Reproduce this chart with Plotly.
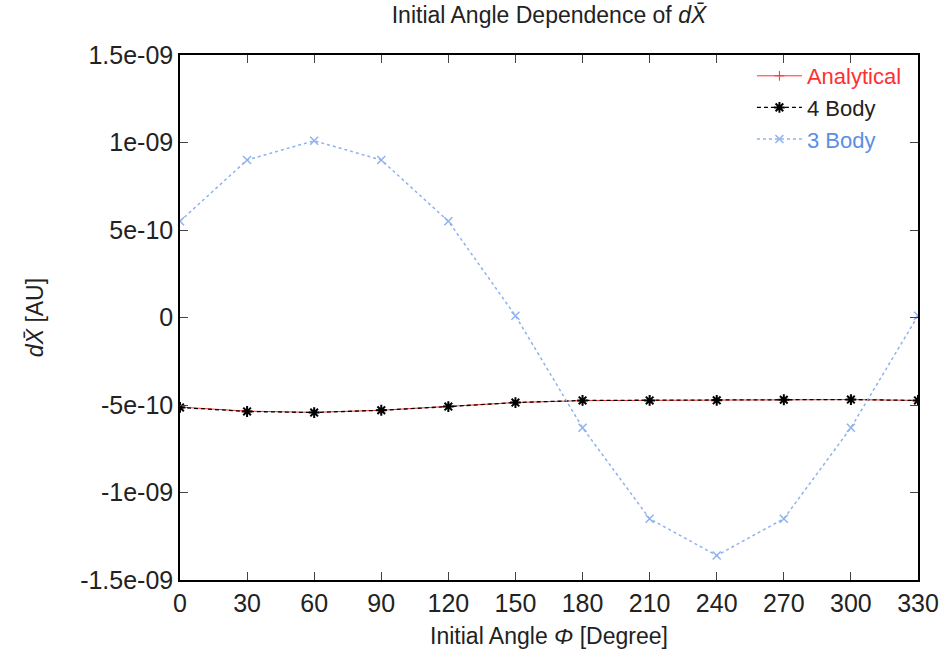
import plotly.graph_objects as go

angles = [0, 30, 60, 90, 120, 150, 180, 210, 240, 270, 300, 330]
analytical = [-5.12e-10, -5.35e-10, -5.42e-10, -5.30e-10, -5.08e-10, -4.86e-10,
              -4.75e-10, -4.73e-10, -4.72e-10, -4.70e-10, -4.69e-10, -4.74e-10]
body4 = [-5.14e-10, -5.37e-10, -5.43e-10, -5.30e-10, -5.09e-10, -4.86e-10,
         -4.74e-10, -4.74e-10, -4.73e-10, -4.70e-10, -4.69e-10, -4.74e-10]
body3 = [5.5e-10, 9.0e-10, 1.01e-09, 9.0e-10, 5.5e-10, 0.1e-10,
         -6.3e-10, -1.15e-09, -1.36e-09, -1.15e-09, -6.3e-10, 0.1e-10]
x_ticks = angles
y_ticks = [1.5e-09, 1e-09, 5e-10, 0, -5e-10, -1e-09, -1.5e-09]
y_tick_labels = ["1.5e-09", "1e-09", "5e-10", "0", "-5e-10", "-1e-09", "-1.5e-09"]

FONT = "Liberation Sans, Arial, sans-serif"

fig = go.Figure()
fig.add_trace(go.Scatter(
    x=angles, y=analytical, mode="lines+markers",
    name="<span style='color:#ff3030'>Analytical</span>",
    line=dict(color="#ff3030", width=1),
    marker=dict(symbol="cross-thin-open", size=7, line=dict(color="#ff3030", width=1)),
))
fig.add_trace(go.Scatter(
    x=angles, y=body4, mode="lines+markers",
    name="4 Body",
    line=dict(color="black", width=1.3, dash="4px,3px"),
    marker=dict(symbol="asterisk-open", size=9, line=dict(color="black", width=2)),
))
fig.add_trace(go.Scatter(
    x=angles, y=body3, mode="lines+markers",
    name="<span style='color:#5b8fe6'>3 Body</span>",
    line=dict(color="#8fb2ee", width=1.5, dash="dot"),
    marker=dict(symbol="x-thin-open", size=8, line=dict(color="#5b8fe6", width=1.5)),
))

fig.update_layout(
    width=943, height=660,
    margin=dict(l=180, r=25, t=55, b=80),
    paper_bgcolor="white", plot_bgcolor="white",
    font=dict(family=FONT, size=23, color="#222"),
    title=dict(text="Initial Angle Dependence of <i>dX̄</i>", x=0.5, xref="paper",
               xanchor="center", y=0.99, yanchor="top", font=dict(size=23)),
    showlegend=True,
    legend=dict(x=0.985, xanchor="right", y=1.0, yanchor="top",
                bgcolor="rgba(0,0,0,0)", font=dict(size=22), tracegroupgap=0,
                itemwidth=45),
)
fig.update_xaxes(
    range=[0, 330], tickvals=x_ticks, ticks="inside", ticklen=8,
    showline=True, linecolor="black", linewidth=1.5, mirror="ticks",
    showgrid=False, zeroline=False, tickfont=dict(size=25), automargin=False,
    title=dict(text="Initial Angle <i>Φ</i> [Degree]", font=dict(size=23), standoff=12),
)
fig.update_yaxes(
    range=[-1.5e-09, 1.5e-09], tickvals=y_ticks, ticktext=y_tick_labels,
    ticks="inside", ticklen=8,
    showline=True, linecolor="black", linewidth=1.5, mirror="ticks",
    showgrid=False, zeroline=False, tickfont=dict(size=25), automargin=False,
    title=dict(text="<i>dX̄</i> [AU]", font=dict(size=23), standoff=30),
)

fig.write_html("out.html")
